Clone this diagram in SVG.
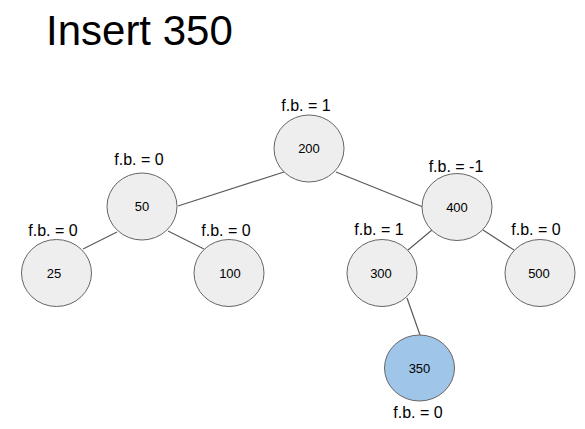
<svg xmlns="http://www.w3.org/2000/svg" width="585" height="429" viewBox="0 0 585 429">
<style>
.node{fill:#eeeeee;stroke:#666666;stroke-width:1}
.hl{fill:#9fc5e8;stroke:#666666;stroke-width:1}
.v{font-family:"Liberation Sans",Arial,sans-serif;font-size:13px;fill:#000;text-anchor:middle}
.fb{font-family:"Liberation Sans",Arial,sans-serif;font-size:16px;fill:#000;text-anchor:middle}
.title{font-family:"Liberation Sans",Arial,sans-serif;font-size:42px;fill:#000}
#edges line{stroke:#595959;stroke-width:1.2}
</style>
<rect width="585" height="429" fill="#ffffff"/>
<text class="title" x="46" y="45">Insert 350</text>
<g id="edges">
<line x1="178" y1="206" x2="284" y2="172"/>
<line x1="336" y1="172" x2="423" y2="207"/>
<line x1="117" y1="232" x2="83" y2="249"/>
<line x1="168" y1="231" x2="204" y2="249"/>
<line x1="432" y1="230" x2="408" y2="250"/>
<line x1="483" y1="230" x2="514" y2="250"/>
<line x1="407" y1="298" x2="420" y2="335"/>
</g>
<g id="n200"><ellipse class="node" cx="309" cy="148.5" rx="35" ry="33.5"/><text class="v" x="309" y="153">200</text><text class="fb" x="306" y="111">f.b. = 1</text></g>
<g id="n50"><ellipse class="node" cx="142" cy="206.5" rx="35" ry="33.5"/><text class="v" x="142" y="211">50</text><text class="fb" x="139" y="165">f.b. = 0</text></g>
<g id="n400"><ellipse class="node" cx="457" cy="207" rx="35" ry="33.5"/><text class="v" x="457" y="211.5">400</text><text class="fb" x="456" y="172">f.b. = -1</text></g>
<g id="n25"><ellipse class="node" cx="56.5" cy="273" rx="35" ry="33.5"/><text class="v" x="54" y="277.5">25</text><text class="fb" x="53" y="236">f.b. = 0</text></g>
<g id="n100"><ellipse class="node" cx="229" cy="273" rx="35" ry="33.5"/><text class="v" x="230" y="277.5">100</text><text class="fb" x="226" y="236">f.b. = 0</text></g>
<g id="n300"><ellipse class="node" cx="382" cy="273" rx="35" ry="33.5"/><text class="v" x="381" y="277.5">300</text><text class="fb" x="379" y="235">f.b. = 1</text></g>
<g id="n500"><ellipse class="node" cx="540" cy="273" rx="35" ry="33.5"/><text class="v" x="539" y="277.5">500</text><text class="fb" x="536" y="235">f.b. = 0</text></g>
<g id="n350"><ellipse class="hl" cx="419.5" cy="368" rx="35" ry="33"/><text class="v" x="419.5" y="372.5">350</text><text class="fb" x="418" y="418">f.b. = 0</text></g>
</svg>
